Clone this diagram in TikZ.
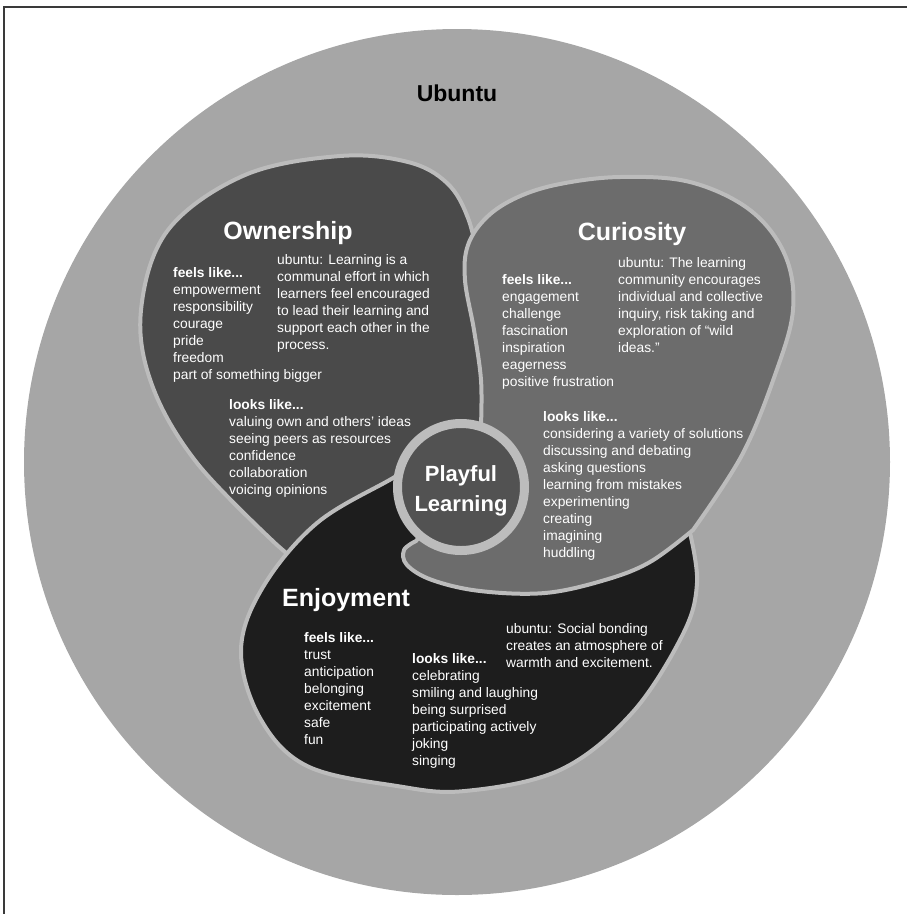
\documentclass[tikz,border=0pt]{standalone}
\usepackage{fontspec}
\setmainfont{Liberation Sans}
\definecolor{fondo}{HTML}{A6A6A6}
\definecolor{linea}{HTML}{BCBCBC}
\definecolor{own}{HTML}{4A4A4A}
\definecolor{cur}{HTML}{6C6C6C}
\definecolor{enj}{HTML}{1D1D1D}
\definecolor{centro}{HTML}{525252}
\definecolor{marco}{HTML}{3A3A3A}
\begin{document}
\begin{tikzpicture}[x=1pt,y=-1pt,
    petalo/.style={draw=linea,line width=4pt,line join=round},
    texto/.style={anchor=north west,inner sep=0pt,align=left,text=white,
      font=\fontsize{13.8}{17}\selectfont},
    titulo/.style={anchor=base,inner sep=0pt,text=white,
      font=\fontsize{25}{30}\selectfont\bfseries}]
  \useasboundingbox (0,0) rectangle (907,914);
  % Marco
  \draw[marco,line width=1.2pt] (4,914) -- (4,7) -- (907,7);
  % Circulo exterior
  \fill[fondo] (457,462) circle[radius=433];
  \node[anchor=base,inner sep=0pt,font=\fontsize{23}{28}\selectfont\bfseries] (ubuntu) at (457,101) {Ubuntu};
  % Petalos
  \filldraw[petalo,fill=own] plot[smooth,tension=0.6] coordinates {(277,545) (197,463) (152,385) (141,310) (168,230) (245,175) (340,156) (408,162) (447,183) (468,218) (481,270)} -- (495,420) -- (430,480) -- (300,565) -- cycle;
  \filldraw[petalo,fill=enj] (461,487) -- plot[smooth,tension=0.6] coordinates {(425,458) (393,478) (317,523) (263,587) (241,650) (260,718) (307,766) (397,786) (465,791) (560,770) (632,713) (683,634) (697,583) (690,533)} -- (600,548) -- cycle;
  \filldraw[petalo,fill=cur] (461,487) -- plot[smooth,tension=0.6] coordinates {(481,425) (481,380) (474,330) (465,280) (468,245) (487,217) (518,197) (560,184) (620,177) (690,182) (750,210) (785,255) (793,310) (775,375) (742,455) (693,530)} -- plot[smooth,tension=0.6] coordinates {(693,530) (650,562) (605,580) (545,593) (480,591) (432,580) (407,565) (404,550) (416,541)} -- cycle;
  % Centro
  \node[circle,draw=linea,line width=9pt,fill=centro,minimum size=127pt,inner sep=0pt] (anillo) at (461,487) {};
  \node[align=center,text=white,inner sep=0pt,font=\fontsize{22}{30}\selectfont\bfseries] (juego) at ([yshift=-4pt]anillo.center) {Playful\\Learning};
  % Ownership
  \node[titulo] (own) at (288,239) {Ownership};
  \node[texto] (ownFeels) at (173,267) {\textbf{feels like...}\\empowerment\\responsibility\\courage\\pride\\freedom\\part of something bigger};
  \node[texto] (ownUbuntu) at (277,254) {ubuntu: Learning is a\\communal effort in which\\learners feel encouraged\\to lead their learning and\\support each other in the\\process.};
  \node[texto] (ownLooks) at (229,399) {\textbf{looks like...}\\valuing own and others' ideas\\seeing peers as resources\\confidence\\collaboration\\voicing opinions};
  % Curiosity
  \node[titulo] (cur) at (632,240) {Curiosity};
  \node[texto] (curFeels) at (502,274) {\textbf{feels like...}\\engagement\\challenge\\fascination\\inspiration\\eagerness\\positive frustration};
  \node[texto] (curUbuntu) at (618,257) {ubuntu: The learning\\community encourages\\individual and collective\\inquiry, risk taking and\\exploration of ``wild\\ideas.''};
  \node[texto] (curLooks) at (543,411) {\textbf{looks like...}\\considering a variety of solutions\\discussing and debating\\asking questions\\learning from mistakes\\experimenting\\creating\\imagining\\huddling};
  % Enjoyment
  \node[titulo] (enj) at (346,606) {Enjoyment};
  \node[texto] (enjFeels) at (304,632) {\textbf{feels like...}\\trust\\anticipation\\belonging\\excitement\\safe\\fun};
  \node[texto] (enjLooks) at (412,653) {\textbf{looks like...}\\celebrating\\smiling and laughing\\being surprised\\participating actively\\joking\\singing};
  \node[texto] (enjUbuntu) at (506,623) {ubuntu: Social bonding\\creates an atmosphere of\\warmth and excitement.};
\end{tikzpicture}
\end{document}
